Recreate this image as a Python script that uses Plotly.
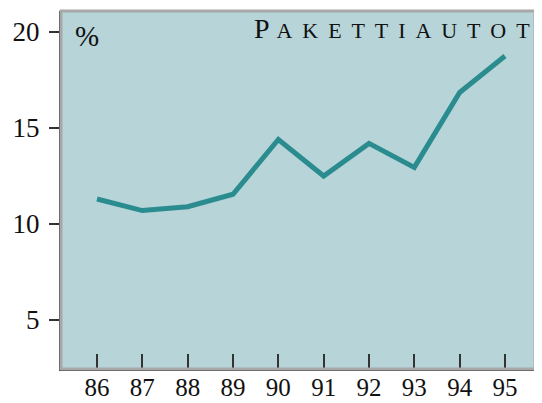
import plotly.graph_objects as go

years = [86, 87, 88, 89, 90, 91, 92, 93, 94, 95]
values = [11.3, 10.7, 10.9, 11.55, 14.4, 12.5, 14.2, 12.95, 16.85, 18.75]
y_ticks = [5, 10, 15, 20]
title_text = "PAKETTIAUTOT"
unit_text = "%"

fig = go.Figure()
fig.add_trace(go.Scatter(
    x=years, y=values, mode="lines",
    line=dict(color="#2a8c8f", width=5),
    hoverinfo="skip",
))

first, rest = title_text[0], "\u00a0\u2009".join(title_text[1:])
fig.add_annotation(
    xref="paper", yref="paper", x=1, y=1, xanchor="right", yanchor="top",
    xshift=-3, yshift=0, showarrow=False,
    text=f"<span style='font-size:28px'>{first}\u00a0</span><span style='font-size:22px'>{rest}</span>",
    font=dict(family="Liberation Serif", color="#111"),
)
fig.add_annotation(
    xref="paper", yref="paper", x=0, y=1, xanchor="left", yanchor="top",
    xshift=12, yshift=-7, showarrow=False, text=unit_text,
    font=dict(family="Liberation Serif", size=29, color="#111"),
)

# light frame on top/right
fig.add_shape(type="rect", xref="paper", yref="paper", x0=0, x1=1, y0=0, y1=1,
              line=dict(color="#a8a8a8", width=3), layer="above")

# page body has an 8px margin, so size the figure to end at the window edge
fig.update_layout(
    width=534, height=395,
    margin=dict(l=53, r=7, t=3, b=34),
    paper_bgcolor="white", plot_bgcolor="#b7d4d8",
    showlegend=False,
    font=dict(family="Liberation Serif", size=25, color="#111"),
    xaxis=dict(
        range=[85.206, 95.662], tickvals=years, ticktext=[str(y) for y in years],
        ticks="inside", ticklen=15, tickwidth=2, tickcolor="#333",
        showgrid=False, zeroline=False, showline=True, linecolor="#333", linewidth=2,
        tickfont=dict(size=25), ticklabelstandoff=-5, fixedrange=True, automargin=False,
    ),
    yaxis=dict(
        range=[2.448, 21.094], tickvals=y_ticks, ticktext=[str(v) for v in y_ticks],
        ticks="outside", ticklen=10, tickwidth=1.5, tickcolor="#333",
        showgrid=False, zeroline=False, showline=True, linecolor="#333", linewidth=2,
        tickfont=dict(size=27), ticklabelstandoff=4, fixedrange=True, automargin=False,
    ),
)

fig.write_html("out.html")
